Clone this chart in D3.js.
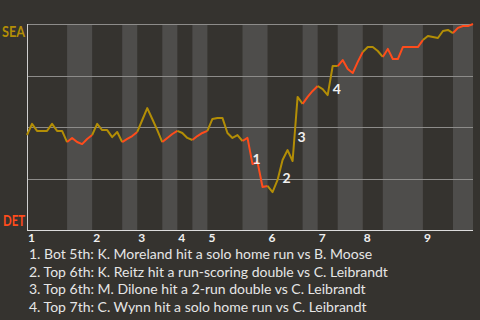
<!DOCTYPE html>
<html><head><meta charset="utf-8">
<script src="https://cdn.jsdelivr.net/npm/d3@7"></script>
<style>
html,body{margin:0;padding:0;background:#35332f;}
svg{display:block;}
</style></head>
<body>
<script>
// ---- data ----
const innings = ["1","2","3","4","5","6","7","8","9"];
// event index where each half-inning starts (top 1st, bot 1st, top 2nd, ...)
const halfStarts = [0, 8, 13, 19, 22, 27, 30, 33, 36, 43, 48, 55, 58, 62, 67, 71, 79, 85];
// SEA win probability after each event
const winProb = [
  0.461, 0.515, 0.481, 0.481, 0.481, 0.515, 0.481, 0.481,
  0.427, 0.447, 0.427, 0.417, 0.442,
  0.461, 0.515, 0.485, 0.485, 0.451, 0.476,
  0.427, 0.442, 0.456,
  0.476, 0.534, 0.592, 0.539, 0.485,
  0.427, 0.447, 0.466,
  0.481, 0.471, 0.447,
  0.437, 0.456, 0.471,
  0.481, 0.539, 0.544, 0.544, 0.471, 0.447, 0.461,
  0.432, 0.447, 0.320, 0.330, 0.209,
  0.214, 0.184, 0.243, 0.340, 0.388, 0.335, 0.646,
  0.612, 0.646, 0.675,
  0.699, 0.684, 0.655, 0.796,
  0.796, 0.825, 0.782, 0.762, 0.816,
  0.864, 0.888, 0.888, 0.869,
  0.840, 0.879, 0.830, 0.830, 0.888, 0.888, 0.888, 0.888,
  0.922, 0.942, 0.937, 0.932, 0.966, 0.971,
  0.956, 0.981, 0.990, 0.990, 1.000
];
const gridValues = [0.25, 0.5, 0.75, 1.0];
const teamTop = "SEA";
const teamBottom = "DET";
const annotationEvents = [45, 51, 54, 61];
const annotationTexts = [
  "1. Bot 5th: K. Moreland hit a solo home run vs B. Moose",
  "2. Top 6th: K. Reitz hit a run-scoring double vs C. Leibrandt",
  "3. Top 6th: M. Dilone hit a 2-run double vs C. Leibrandt",
  "4. Top 7th: C. Wynn hit a solo home run vs C. Leibrandt"
];

// ---- drawing ----
(function () {
const W = 480, H = 320;
const mLeft = 27, mRight = 473, mTop = 24, mBottom = 230;
const gold = "#b38e06", red = "#ff4c1c";
const font = "Lato, 'Open Sans', sans-serif";

const svg = d3.select("body").append("svg").attr("width", W).attr("height", H);
svg.append("rect").attr("width", W).attr("height", H).attr("fill", "#35332f");

const n = winProb.length;
const x = d3.scaleLinear().domain([0, n - 1]).range([mLeft, mRight]);
const y = d3.scaleLinear().domain([0, 1]).range([mBottom, mTop]);

const halfEnd = h => (h + 1 < halfStarts.length ? halfStarts[h + 1] : n - 1);

// bottom-half shading
svg.append("g").selectAll("rect")
  .data(halfStarts.map((s, h) => ({s, e: halfEnd(h), h})).filter(d => d.h % 2 === 1))
  .join("rect")
  .attr("x", d => x(d.s)).attr("width", d => x(d.e) - x(d.s))
  .attr("y", y(1)).attr("height", y(0) - y(1))
  .attr("fill", "#4e4d4b");

// gridlines
svg.append("g").selectAll("line").data(gridValues).join("line")
  .attr("x1", x(0)).attr("x2", x(n - 1))
  .attr("y1", d => Math.round(y(d)) + 0.5).attr("y2", d => Math.round(y(d)) + 0.5)
  .attr("stroke", "#8d8c8a").attr("stroke-width", 1);

// axes lines
svg.append("line").attr("x1", x(0) + 0.5).attr("x2", x(0) + 0.5)
  .attr("y1", y(1)).attr("y2", y(0) + 0.5).attr("stroke", "#cfcfcf");
svg.append("line").attr("x1", x(0)).attr("x2", x(n - 1))
  .attr("y1", Math.round(y(0)) + 0.5).attr("y2", Math.round(y(0)) + 0.5).attr("stroke", "#dcdcdc");

// line segments by half-inning
const line = d3.line().x(i => x(i)).y(i => y(winProb[i]));
svg.append("g").selectAll("path")
  .data(halfStarts.map((s, h) => ({h, idx: d3.range(s, halfEnd(h) + 1)})))
  .join("path")
  .attr("d", d => line(d.idx))
  .attr("fill", "none")
  .attr("stroke", d => d.h % 2 === 1 ? red : gold)
  .attr("stroke-width", 2)
  .attr("stroke-linejoin", "round");

// team labels
svg.append("text").text(teamTop).attr("x", 25).attr("y", 37)
  .attr("text-anchor", "end").attr("font-family", font).attr("font-weight", "bold")
  .attr("font-size", 16).attr("textLength", 23).attr("lengthAdjust", "spacingAndGlyphs")
  .attr("fill", gold);
svg.append("text").text(teamBottom).attr("x", 25).attr("y", 226)
  .attr("text-anchor", "end").attr("font-family", font).attr("font-weight", "bold")
  .attr("font-size", 16).attr("textLength", 22).attr("lengthAdjust", "spacingAndGlyphs")
  .attr("fill", red);

// inning labels
svg.append("g").selectAll("text").data(innings).join("text")
  .text(d => d)
  .attr("x", (d, k) => x(halfStarts[2 * k]) + 1)
  .attr("y", 242)
  .attr("font-family", font).attr("font-weight", "bold").attr("font-size", 12)
  .attr("fill", "#f0f0f0");

// annotation markers
svg.append("g").selectAll("text").data(annotationEvents).join("text")
  .text((d, k) => String(k + 1))
  .attr("x", d => x(d))
  .attr("y", d => (y(winProb[d]) + y(winProb[d - 1])) / 2 + 13)
  .attr("font-family", font).attr("font-weight", "bold").attr("font-size", 14)
  .attr("fill", "#f0f0f0");

// annotation list
svg.append("g").selectAll("text").data(annotationTexts).join("text")
  .text(d => d)
  .attr("x", 29)
  .attr("y", (d, k) => 259 + k * 17.5)
  .attr("font-family", font).attr("font-size", 14)
  .attr("fill", "#e6e6e6");
})();
</script>
</body></html>
